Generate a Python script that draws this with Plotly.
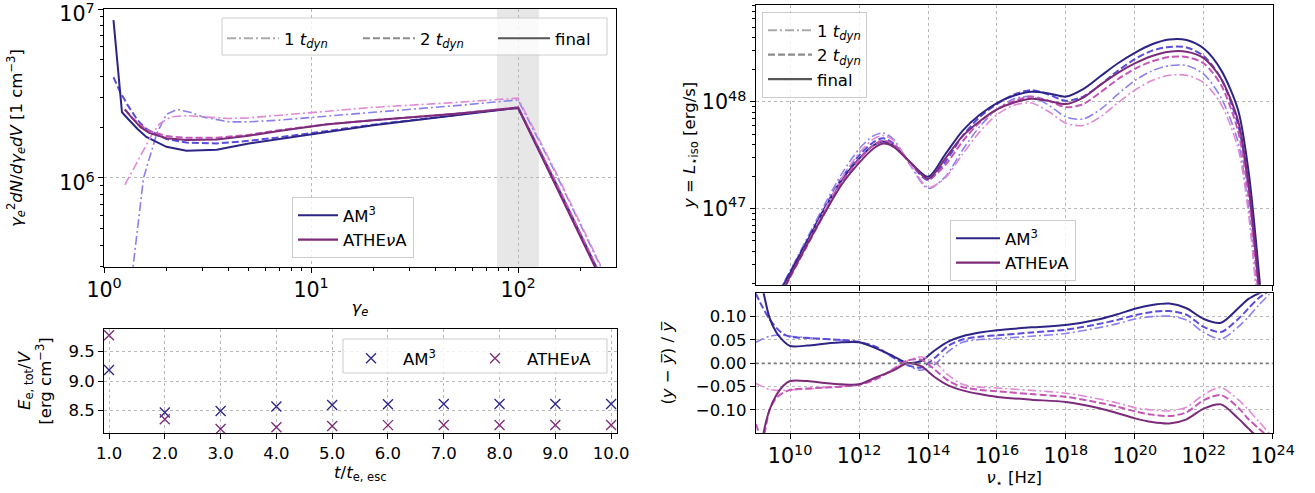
import numpy as np
import plotly.graph_objects as go

# ---------------- data: top-left (electron spectra) ----------------
g_am3_1t = [1.3, 1.38, 1.47, 1.55, 1.7, 1.8, 2.0, 2.25, 2.6, 3.0, 4.0, 5.0, 7.0, 12, 20, 50, 100, 150, 200, 250]
n_am3_1t = [1.6e5, 3.0e5, 5.8e5, 1.0e6, 1.46e6, 1.85e6, 2.38e6, 2.55e6, 2.45e6, 2.3e6, 2.15e6, 2.15e6, 2.2e6,
            2.33e6, 2.45e6, 2.68e6, 2.9e6, 1.1e6, 5.3e5, 3.0e5]
g_am3_2t = [1.11, 1.2, 1.3, 1.45, 1.6, 2.0, 2.5, 3.5, 5.0, 7.0, 12, 20, 50, 100, 150, 200, 250]
n_am3_2t = [3.95e6, 3.2e6, 2.7e6, 2.2e6, 1.95e6, 1.7e6, 1.62e6, 1.6e6, 1.66e6, 1.74e6, 1.9e6, 2.07e6, 2.36e6,
            2.62e6, 9.7e5, 4.7e5, 2.65e5]
g_am3_fin = [1.11, 1.22, 1.3, 1.45, 1.6, 2.0, 2.5, 3.5, 5.0, 7.0, 12, 20, 50, 100, 150, 200, 250]
n_am3_fin = [8.6e6, 2.45e6, 2.25e6, 1.95e6, 1.75e6, 1.53e6, 1.45e6, 1.47e6, 1.6e6, 1.7e6, 1.87e6, 2.05e6, 2.35e6,
             2.6e6, 9.5e5, 4.6e5, 2.6e5]
g_ath_1t = [1.26, 1.4, 1.55, 1.7, 1.85, 2.1, 2.5, 3.0, 4.0, 5.0, 7.0, 12, 20, 50, 100, 150, 200, 250]
n_ath_1t = [9.1e5, 1.16e6, 1.47e6, 1.8e6, 2.09e6, 2.3e6, 2.34e6, 2.3e6, 2.25e6, 2.27e6, 2.35e6, 2.5e6, 2.62e6,
            2.8e6, 2.97e6, 1.12e6, 5.4e5, 3.05e5]
g_ath_2t = [1.26, 1.35, 1.5, 1.65, 2.0, 2.5, 3.5, 5.0, 7.0, 12, 20, 50, 100, 150, 200, 250]
n_ath_2t = [2.55e6, 2.3e6, 2.05e6, 1.9e6, 1.77e6, 1.73e6, 1.73e6, 1.8e6, 1.92e6, 2.08e6, 2.2e6, 2.4e6, 2.62e6,
            9.8e5, 4.7e5, 2.65e5]
g_ath_fin = [1.26, 1.35, 1.5, 1.65, 2.0, 2.5, 3.5, 5.0, 7.0, 12, 20, 50, 100, 150, 200, 250]
n_ath_fin = [2.55e6, 2.3e6, 2.0e6, 1.85e6, 1.72e6, 1.68e6, 1.69e6, 1.78e6, 1.9e6, 2.08e6, 2.2e6, 2.4e6, 2.6e6,
             9.4e5, 4.5e5, 2.55e5]
band_gamma = [79, 126]

# ---------------- data: bottom-left (total energy) ----------------
t_esc = [1.0, 2.0, 3.0, 4.0, 5.0, 6.0, 7.0, 8.0, 9.0, 10.0]
e_am3 = [9.19, 8.47, 8.495, 8.57, 8.597, 8.61, 8.614, 8.614, 8.614, 8.614]
e_ath = [9.78, 8.354, 8.19, 8.218, 8.24, 8.255, 8.258, 8.258, 8.258, 8.258]

# ---------------- data: top-right (SED, log10 values) ----------------
log_nu = [9.6, 10.0, 10.5, 11.0, 11.5, 12.0, 12.4, 12.7, 13.0, 13.5, 14.0, 14.5, 15.0, 15.5, 16.0, 16.5,
          17.0, 17.5, 18.0, 18.5, 19.0, 19.5, 20.0, 20.5, 21.0, 21.5, 22.0, 22.5, 23.0, 23.3, 23.5, 23.7]
logL_am3_fin = [46.16, 46.40, 46.70, 47.00, 47.27, 47.47, 47.59, 47.63, 47.59, 47.43, 47.30, 47.51, 47.73, 47.88,
                47.99, 48.06, 48.095, 48.08, 48.05, 48.12, 48.24, 48.36, 48.46, 48.54, 48.585, 48.58, 48.50,
                48.30, 47.92, 47.35, 46.75, 46.05]
logL_ath_fin = [46.10, 46.37, 46.67, 46.96, 47.23, 47.43, 47.56, 47.61, 47.58, 47.43, 47.28, 47.47, 47.68, 47.82,
                47.93, 47.995, 48.03, 48.01, 47.98, 48.04, 48.16, 48.27, 48.36, 48.43, 48.47, 48.47, 48.41,
                48.22, 47.82, 47.23, 46.62, 45.91]
logL_am3_2t = [46.17, 46.41, 46.71, 47.01, 47.29, 47.50, 47.62, 47.66, 47.61, 47.42, 47.27, 47.44, 47.68, 47.86,
               47.98, 48.07, 48.11, 48.07, 48.01, 48.05, 48.16, 48.29, 48.40, 48.48, 48.515, 48.51, 48.43,
               48.22, 47.78, 47.20, 46.58, 45.90]
logL_ath_2t = [46.11, 46.36, 46.66, 46.96, 47.25, 47.46, 47.59, 47.64, 47.60, 47.43, 47.28, 47.41, 47.63, 47.81,
               47.93, 48.01, 48.05, 48.01, 47.95, 47.98, 48.09, 48.21, 48.31, 48.38, 48.42, 48.42, 48.36,
               48.16, 47.72, 47.12, 46.50, 45.80]
logL_am3_1t = [46.18, 46.42, 46.73, 47.04, 47.33, 47.56, 47.68, 47.71, 47.65, 47.40, 47.19, 47.30, 47.55, 47.77,
               47.93, 48.03, 48.05, 47.97, 47.86, 47.84, 47.93, 48.07, 48.20, 48.29, 48.34, 48.34, 48.26,
               48.04, 47.62, 47.00, 46.35, 45.60]
logL_ath_1t = [46.14, 46.37, 46.68, 46.99, 47.29, 47.52, 47.65, 47.685, 47.64, 47.41, 47.20, 47.29, 47.51, 47.72,
               47.88, 47.97, 47.99, 47.91, 47.80, 47.78, 47.86, 47.99, 48.11, 48.20, 48.25, 48.25, 48.18,
               47.98, 47.56, 46.95, 46.30, 45.50]

# ---------------- data: bottom-right (relative deviation) ----------------
log_nu_r = [9.0, 9.2, 9.4, 9.6, 9.8, 10.0, 10.5, 11.0, 11.5, 12.0, 12.5, 13.0, 13.4, 13.8, 14.2, 14.6, 15.0,
            15.5, 16.0, 17.0, 18.0, 19.0, 19.5, 20.0, 20.5, 21.0, 21.5, 22.0, 22.5, 23.0, 23.3, 23.6, 23.9]
r_am3_fin = [0.22, 0.16, 0.098, 0.066, 0.048, 0.037, 0.038, 0.042, 0.045, 0.045, 0.032, 0.015, 0.001, 0.005,
             0.028, 0.047, 0.058, 0.066, 0.071, 0.077, 0.082, 0.095, 0.105, 0.117, 0.125, 0.128, 0.118, 0.095,
             0.087, 0.118, 0.138, 0.15, 0.16]
r_am3_2t = [0.15, 0.12, 0.095, 0.076, 0.063, 0.057, 0.054, 0.052, 0.050, 0.046, 0.035, 0.012, -0.004, -0.009,
            0.012, 0.038, 0.051, 0.057, 0.060, 0.066, 0.072, 0.085, 0.093, 0.103, 0.110, 0.112, 0.104, 0.078,
            0.067, 0.095, 0.118, 0.14, 0.155]
r_am3_1t = [0.045, 0.052, 0.058, 0.060, 0.060, 0.058, 0.055, 0.052, 0.049, 0.045, 0.032, 0.012, -0.004, -0.015,
            -0.002, 0.026, 0.045, 0.051, 0.053, 0.058, 0.064, 0.077, 0.085, 0.095, 0.100, 0.101, 0.093, 0.066,
            0.052, 0.078, 0.10, 0.125, 0.148]
r_ath_fin = [-0.30, -0.16, -0.10, -0.068, -0.048, -0.038, -0.038, -0.042, -0.045, -0.045, -0.03, -0.015, 0.0,
             -0.006, -0.03, -0.048, -0.058, -0.066, -0.072, -0.078, -0.083, -0.097, -0.107, -0.118, -0.126,
             -0.129, -0.12, -0.097, -0.088, -0.118, -0.14, -0.16, -0.17]
r_ath_2t = [-0.13, -0.16, -0.10, -0.074, -0.063, -0.057, -0.054, -0.052, -0.05, -0.046, -0.034, -0.012, 0.006,
            0.008, -0.014, -0.038, -0.051, -0.057, -0.06, -0.066, -0.072, -0.085, -0.093, -0.103, -0.11, -0.113,
            -0.105, -0.079, -0.068, -0.095, -0.12, -0.14, -0.16]
r_ath_1t = [-0.043, -0.05, -0.056, -0.058, -0.058, -0.057, -0.055, -0.052, -0.049, -0.045, -0.032, -0.012, 0.005,
            0.014, 0.002, -0.026, -0.045, -0.051, -0.053, -0.058, -0.064, -0.077, -0.085, -0.095, -0.100, -0.102,
            -0.094, -0.067, -0.052, -0.078, -0.10, -0.125, -0.15]

# ---------------- ticks ----------------
bl_x_ticks = [1, 2, 3, 4, 5, 6, 7, 8, 9, 10]
bl_y_ticks = [8.5, 9.0, 9.5]
res_ticks = [-0.10, -0.05, 0.0, 0.05, 0.10]

# ---------------- styling ----------------
FONT = "DejaVu Sans"
FS = 16.5
AM3 = {"1t": "#8c80ee", "2t": "#5b4cd9", "fin": "#2d2586"}
ATH = {"1t": "#e08ad6", "2t": "#c655b8", "fin": "#7c2b7a"}
DASH = {"1t": "9px,3px,2px,3px", "2t": "7px,3px", "fin": "solid"}
WID = {"1t": 1.6, "2t": 2.0, "fin": 2.0}
GRAY = {"1t": "#aaaaaa", "2t": "#8c8c8c", "fin": "#555555"}
LBL = {"1t": "1 <i>t<sub>dyn</sub></i>", "2t": "2 <i>t<sub>dyn</sub></i>", "fin": "final"}

W, H = 1315, 493
fig = go.Figure()


def line(x, y, xa, ya, color, key, shape="linear"):
    fig.add_trace(go.Scatter(
        x=x, y=y, xaxis=xa, yaxis=ya, mode="lines", showlegend=False, hoverinfo="skip",
        line=dict(color=color, dash=DASH[key], width=WID[key], shape=shape,
                  smoothing=0.8 if shape == "spline" else None)))


# top-left
for key, g, n in [("1t", g_am3_1t, n_am3_1t), ("2t", g_am3_2t, n_am3_2t), ("fin", g_am3_fin, n_am3_fin)]:
    line(g, n, "x", "y", AM3[key], key)
for key, g, n in [("1t", g_ath_1t, n_ath_1t), ("2t", g_ath_2t, n_ath_2t), ("fin", g_ath_fin, n_ath_fin)]:
    line(g, n, "x", "y", ATH[key], key)

# top-right
nu = 10 ** np.array(log_nu)
for key, lg in [("1t", logL_am3_1t), ("2t", logL_am3_2t), ("fin", logL_am3_fin)]:
    line(nu, 10 ** np.array(lg), "x3", "y3", AM3[key], key, "spline")
for key, lg in [("1t", logL_ath_1t), ("2t", logL_ath_2t), ("fin", logL_ath_fin)]:
    line(nu, 10 ** np.array(lg), "x3", "y3", ATH[key], key, "spline")

# bottom-right
nu_r = 10 ** np.array(log_nu_r)
for key, r in [("1t", r_am3_1t), ("2t", r_am3_2t), ("fin", r_am3_fin)]:
    line(nu_r, r, "x4", "y4", AM3[key], key, "spline")
for key, r in [("1t", r_ath_1t), ("2t", r_ath_2t), ("fin", r_ath_fin)]:
    line(nu_r, r, "x4", "y4", ATH[key], key, "spline")

# bottom-left markers (each in its own legend so the two entries can be placed freely)
for name, vals, col, lg in [("AM<sup>3</sup>", e_am3, AM3["fin"], "legend3"),
                            ("ATHE<i>ν</i>A", e_ath, ATH["fin"], "legend8")]:
    fig.add_trace(go.Scatter(
        x=t_esc, y=vals, xaxis="x2", yaxis="y2", mode="markers", name=name, legend=lg,
        marker=dict(symbol="x-thin", size=10, color=col, line=dict(width=1.3, color=col)),
        hoverinfo="skip", cliponaxis=False))

# legend proxies: top-left horizontal (one legend per entry), top-right vertical
for key, lg in [("1t", "legend"), ("2t", "legend6"), ("fin", "legend7")]:
    fig.add_trace(go.Scatter(x=[None], y=[None], xaxis="x", yaxis="y", mode="lines", name=LBL[key],
                             legend=lg, line=dict(color=GRAY[key], dash=DASH[key], width=2.2)))
for key in ["1t", "2t", "fin"]:
    fig.add_trace(go.Scatter(x=[None], y=[None], xaxis="x3", yaxis="y3", mode="lines", name=LBL[key],
                             legend="legend4", line=dict(color=GRAY[key], dash=DASH[key], width=2.2)))
for name, col in [("AM<sup>3</sup>", AM3["fin"]), ("ATHE<i>ν</i>A", ATH["fin"])]:
    for lg, xa, ya in [("legend2", "x", "y"), ("legend5", "x3", "y3")]:
        fig.add_trace(go.Scatter(x=[None], y=[None], xaxis=xa, yaxis=ya, mode="lines", name=name,
                                 legend=lg, line=dict(color=col, width=2.2)))


def xd(a, b):
    return [a / W, b / W]


def yd(top, bot):
    return [1 - bot / H, 1 - top / H]


axis_common = dict(showline=True, linecolor="black", linewidth=1, mirror=True, ticks="outside",
                   ticklen=5, tickwidth=1, tickcolor="black", showgrid=True, gridcolor="#b8b8b8",
                   griddash="dot", gridwidth=1, zeroline=False, automargin=False, ticklabeloverflow="allow",
                   tickfont=dict(family=FONT, size=FS, color="black"))
log_common = dict(type="log", tickmode="linear", exponentformat="power",
                  minor=dict(ticks="outside", ticklen=3, tickwidth=0.8, tickcolor="black", showgrid=False,
                             dtick="D1"))
title_font = dict(family=FONT, size=FS, color="black")

layout = dict(
    width=W, height=H, margin=dict(l=0, r=0, t=0, b=0, autoexpand=False), paper_bgcolor="white",
    plot_bgcolor="white", font=dict(family=FONT, size=FS, color="black"), hovermode=False,
    xaxis=dict(axis_common, **log_common, domain=xd(104, 616), range=[-0.0005, 2.473], anchor="y",
               tick0=0, dtick=1, labelalias={"1": "10<sup>0</sup>", "10": "10<sup>1</sup>"},
               title=dict(text="<i>γ<sub>e</sub></i>", font=title_font, standoff=0)),
    yaxis=dict(axis_common, **log_common, domain=yd(9, 267), range=[5.473, 7.0005], anchor="x",
               tick0=0, dtick=1, ticklabelshift=5,
               title=dict(text="<i>γ</i><sub><i>e</i></sub><sup>2</sup><i>dN</i>/<i>dγ</i><sub><i>e</i></sub><i>dV</i> [1 cm<sup>−3</sup>]",
                          font=title_font, standoff=32)),
    xaxis2=dict(axis_common, domain=xd(104, 616.7), range=[0.91, 10.1], anchor="y2",
                tickvals=bl_x_ticks, ticktext=["%.1f" % v for v in bl_x_ticks],
                title=dict(text="<i>t</i>/<i>t</i><sub>e, esc</sub>", font=title_font, standoff=4)),
    yaxis2=dict(axis_common, domain=yd(329.3, 432.7), range=[8.127, 9.88], anchor="x2",
                tickvals=bl_y_ticks, ticktext=["%.1f" % v for v in bl_y_ticks],
                title=dict(text="<i>E</i><sub>e, tot</sub>/<i>V</i><br>[erg cm<sup>−3</sup>]",
                           font=title_font, standoff=12)),
    xaxis3=dict(axis_common, type="log", tickmode="linear", tick0=0, dtick=2, domain=xd(755.7, 1272.7),
                range=[9.0, 24.0005], anchor="y3", showticklabels=False),
    yaxis3=dict(axis_common, **log_common, domain=yd(5, 284.7), range=[46.29, 48.907], anchor="x3",
                tick0=0, dtick=1,
                title=dict(text="<i>y</i> = <i>L</i><sub>⋆iso</sub> [erg/s]", font=title_font, standoff=2)),
    xaxis4=dict(axis_common, type="log", tickmode="linear", tick0=0, dtick=2, exponentformat="power",
                domain=xd(755.7, 1272.7), range=[9.0, 24.0005], anchor="y4",
                title=dict(text="<i>ν</i><sub>⋆</sub> [Hz]", font=title_font, standoff=4)),
    yaxis4=dict(axis_common, domain=yd(293.3, 433.3), range=[-0.15, 0.15], anchor="x4",
                tickvals=res_ticks, ticktext=[("%.2f" % v).replace("-", "−") for v in res_ticks],
                title=dict(text="(<i>y</i> − <i>y̅</i>) / <i>y̅</i>", font=title_font, standoff=18)),
)

leg_common = dict(bgcolor="rgba(255,255,255,0.8)", bordercolor="#cccccc", borderwidth=1,
                  font=dict(family=FONT, size=FS, color="black"), xanchor="left", yanchor="top",
                  itemwidth=40, tracegroupgap=0, itemclick=False, itemdoubleclick=False)
leg_bare = dict(leg_common, bgcolor="rgba(0,0,0,0)", borderwidth=0)
# top-left style legend: three single-entry legends inside one drawn box
layout["legend"] = dict(leg_bare, x=222 / W, y=1 - 21 / H, itemwidth=52)
layout["legend6"] = dict(leg_bare, x=358 / W, y=1 - 21 / H, itemwidth=52)
layout["legend7"] = dict(leg_bare, x=493 / W, y=1 - 21 / H, itemwidth=52)
layout["legend2"] = dict(leg_common, x=292 / W, y=1 - 197 / H)
# bottom-left marker legend: two single-entry legends inside one drawn box
layout["legend3"] = dict(leg_bare, x=339 / W, y=1 - 341 / H, itemwidth=54)
layout["legend8"] = dict(leg_bare, x=463 / W, y=1 - 341 / H, itemwidth=54)
layout["legend4"] = dict(leg_common, x=762 / W, y=1 - 12 / H, itemwidth=44)
layout["legend5"] = dict(leg_common, x=950 / W, y=1 - 220 / H, itemwidth=44)

fig.update_layout(**layout)

fig.add_shape(type="rect", xref="x", yref="y domain", x0=band_gamma[0], x1=band_gamma[1], y0=0, y1=1,
              fillcolor="#d0d0d0", opacity=0.5, line=dict(width=0), layer="below")
fig.add_shape(type="line", xref="x4 domain", yref="y4", x0=0, x1=1, y0=0, y1=0,
              line=dict(color="#777777", width=1.8, dash="dot"))
# legend frames
for (x0, y0, x1, y1) in [(222, 18, 607, 55), (343, 339, 607, 373)]:
    fig.add_shape(type="rect", xref="paper", yref="paper", x0=x0 / W, x1=x1 / W, y0=1 - y1 / H, y1=1 - y0 / H,
                  fillcolor="rgba(255,255,255,0.8)", line=dict(color="#cccccc", width=1), layer="above")

fig.write_html("out.html")
